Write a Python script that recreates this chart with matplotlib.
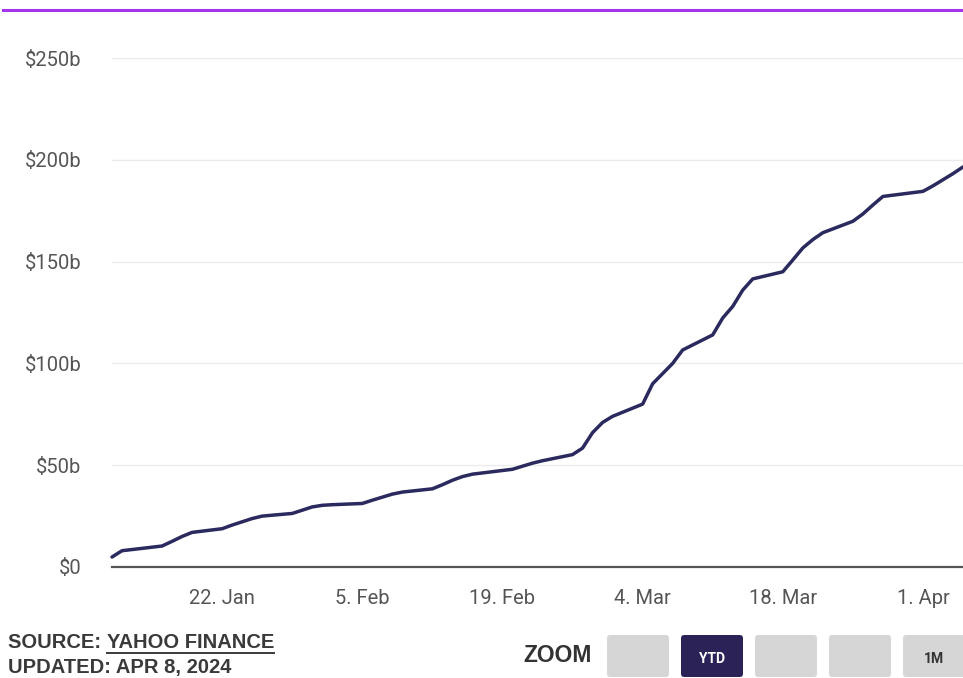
"""
Cumulative value chart (Jan 11 - Apr 5, 2024) with a Yahoo Finance footer
and a fake zoom-button bar, rebuilt as a static matplotlib figure.
"""
import matplotlib.pyplot as plt
import pandas as pd
from matplotlib.patches import FancyBboxPatch

# ---- data ($ billions) ----
dates = [
    "2024-01-11", "2024-01-12", "2024-01-16", "2024-01-17", "2024-01-18", "2024-01-19",
    "2024-01-22", "2024-01-23", "2024-01-24", "2024-01-25", "2024-01-26",
    "2024-01-29", "2024-01-30", "2024-01-31", "2024-02-01", "2024-02-02",
    "2024-02-05", "2024-02-06", "2024-02-07", "2024-02-08", "2024-02-09",
    "2024-02-12", "2024-02-13", "2024-02-14", "2024-02-15", "2024-02-16",
    "2024-02-20", "2024-02-21", "2024-02-22", "2024-02-23",
    "2024-02-26", "2024-02-27", "2024-02-28", "2024-02-29", "2024-03-01",
    "2024-03-04", "2024-03-05", "2024-03-06", "2024-03-07", "2024-03-08",
    "2024-03-11", "2024-03-12", "2024-03-13", "2024-03-14", "2024-03-15",
    "2024-03-18", "2024-03-19", "2024-03-20", "2024-03-21", "2024-03-22",
    "2024-03-25", "2024-03-26", "2024-03-27", "2024-03-28",
    "2024-04-01", "2024-04-02", "2024-04-03", "2024-04-04", "2024-04-05",
]
values = [
    4.9, 8.0, 10.3, 12.6, 15.0, 17.0,
    18.8, 20.6, 22.2, 23.8, 25.0,
    26.3, 27.9, 29.5, 30.3, 30.6,
    31.2, 32.8, 34.3, 35.8, 36.8,
    38.4, 40.4, 42.6, 44.4, 45.6,
    48.0, 49.5, 51.0, 52.2,
    55.2, 58.4, 66.0, 71.0, 74.0,
    80.0, 90.0, 95.0, 100.0, 106.6,
    114.0, 122.3, 128.0, 136.0, 141.5,
    145.0, 150.8, 156.7, 160.8, 164.2,
    169.8, 173.4, 177.8, 182.0,
    184.5, 187.2, 190.2, 193.2, 196.5,
]
y_ticks = [0, 50, 100, 150, 200, 250]
y_tick_labels = ["$0", "$50b", "$100b", "$150b", "$200b", "$250b"]
x_ticks = ["2024-01-22", "2024-02-05", "2024-02-19", "2024-03-04", "2024-03-18", "2024-04-01"]
x_tick_labels = ["22. Jan", "5. Feb", "19. Feb", "4. Mar", "18. Mar", "1. Apr"]
zoom_buttons = ["", "YTD", "", "", "1M"]

LINE = "#2b2a5e"
FONT = ["Roboto", "Liberation Sans", "DejaVu Sans"]
BOLD = ["Liberation Sans", "DejaVu Sans"]
W, H = 963, 678

plt.rcParams["font.family"] = FONT
fig = plt.figure(figsize=(W / 100, H / 100), dpi=100)

ax = fig.add_axes([112 / W, 1 - 567 / H, 1 - 112 / W, (567 - 58) / H])
x = pd.to_datetime(dates)
ax.plot(x, values, color=LINE, linewidth=2.5, solid_capstyle="round", clip_on=False, zorder=3)

ax.set_xlim(pd.Timestamp(dates[0]), pd.Timestamp(dates[-1]))
ax.set_ylim(0, 250)
ax.set_yticks(y_ticks)
ax.set_yticklabels(y_tick_labels)
ax.set_xticks(pd.to_datetime(x_ticks))
ax.set_xticklabels(x_tick_labels)
ax.tick_params(axis="y", length=0, pad=22, labelsize=14.5, labelcolor="#555555")
ax.tick_params(axis="x", length=0, pad=15.5, labelsize=14.5, labelcolor="#555555")
ax.grid(axis="y", color="#ebebeb", linewidth=1)
ax.set_axisbelow(True)
for side in ["top", "right", "left"]:
    ax.spines[side].set_visible(False)
ax.spines["bottom"].set_color("#555555")
ax.spines["bottom"].set_linewidth(1.6)
ax.spines["bottom"].set_zorder(4)

# overlay in pixel coords for the decoration (top rule, footer, buttons)
ov = fig.add_axes([0, 0, 1, 1], zorder=-1)
ov.set_xlim(0, W)
ov.set_ylim(H, 0)
ov.axis("off")
ov.plot([3, W], [10, 10], color="#a335ee", linewidth=2.2)

t1 = ov.text(8, 643, "SOURCE: ", fontsize=14.5, fontweight="bold", color="#3a3a3a",
             va="center", family=BOLD)
fig.canvas.draw()
bb = t1.get_window_extent().transformed(ov.transData.inverted())
t2 = ov.text(bb.x1, 643, "YAHOO FINANCE", fontsize=14.5, fontweight="bold", color="#3a3a3a",
             va="center", family=BOLD)
fig.canvas.draw()
bb2 = t2.get_window_extent().transformed(ov.transData.inverted())
ov.plot([bb2.x0, bb2.x1], [653, 653], color="#3a3a3a", linewidth=1.4)
ov.text(8, 668, "UPDATED: APR 8, 2024", fontsize=14.5, fontweight="bold", color="#3a3a3a",
        va="center", family=BOLD)

ov.text(558, 656, "ZOOM", fontsize=16.5, fontweight="bold", color="#333333",
        ha="center", va="center", family=BOLD)
for i, label in enumerate(zoom_buttons):
    x0 = 607 + i * 74
    active = label == "YTD"
    ov.add_patch(FancyBboxPatch((x0, 635), 62, 42, boxstyle="round,pad=0,rounding_size=3",
                                facecolor="#2b2257" if active else "#d6d6d6", edgecolor="none"))
    if label:
        ov.text(x0 + 31, 659, label, fontsize=10, fontweight="bold",
                color="white" if active else "#333333", ha="center", va="center")

fig.savefig("out.png", dpi=100)
